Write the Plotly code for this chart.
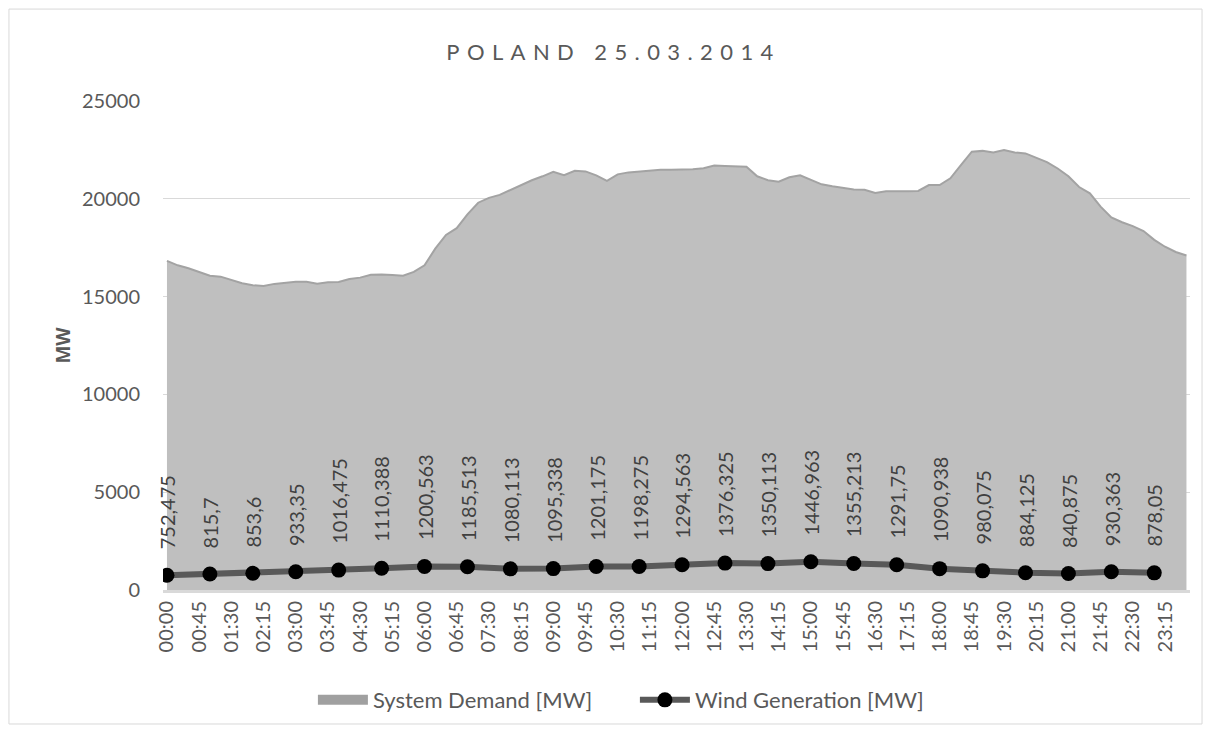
import plotly.graph_objects as go

# Categories: 15-minute intervals of 25.03.2014
times = [f"{h:02d}:{m:02d}" for h in range(24) for m in (0, 15, 30, 45)]

# System demand [MW], one value per 15 minutes
demand = [
    16830, 16600, 16450, 16250, 16070, 16020, 15850, 15680, 15580, 15540, 15650, 15720,
    15760, 15760, 15660, 15730, 15750, 15900, 15970, 16120, 16130, 16100, 16070, 16260,
    16600, 17450, 18150, 18500, 19200, 19800, 20050, 20200, 20450, 20720, 20950, 21150,
    21380, 21210, 21430, 21400, 21200, 20920, 21250, 21350, 21400, 21420, 21490, 21490,
    21500, 21510, 21560, 21700, 21680, 21650, 21640, 21150, 20950, 20870, 21100, 21200,
    20960, 20740, 20640, 20560, 20470, 20460, 20300, 20380, 20370, 20380, 20400, 20700,
    20700, 21050, 21730, 22410, 22450, 22370, 22490, 22370, 22320, 22100, 21880, 21550,
    21150, 20600, 20280, 19600, 19050, 18800, 18600, 18350, 17900, 17550, 17280, 17100,
]

# Wind generation [MW], hourly
wind_times = ["00:00", "01:00", "02:00", "03:00", "04:00", "05:00", "06:00", "07:00",
              "08:00", "09:00", "10:00", "11:00", "12:00", "13:00", "14:00", "15:00",
              "16:00", "17:00", "18:00", "19:00", "20:00", "21:00", "22:00", "23:00"]
wind = [752.475, 815.7, 853.6, 933.35, 1016.475, 1110.388, 1200.563, 1185.513,
        1080.113, 1095.338, 1201.175, 1198.275, 1294.563, 1376.325, 1350.113, 1446.963,
        1355.213, 1291.75, 1090.938, 980.075, 884.125, 840.875, 930.363, 878.05]
wind_labels = [str(v).replace(".", ",") for v in wind]

tick_labels = times[::3]
y_ticks = [0, 5000, 10000, 15000, 20000, 25000]
y_tick_text = ["0", "5000", "10000", "15000", "20000", "25000"]

FONT = "Lato"
TXT = "#595959"

fig = go.Figure()
fig.add_trace(go.Scatter(
    x=times, y=demand, name="System Demand [MW]", mode="lines",
    fill="tozeroy", fillcolor="#BFBFBF",
    line=dict(color="#A3A3A3", width=2),
    showlegend=False, legendgroup="demand",
))
# legend entry for the demand area (drawn as a wide grey box)
fig.add_trace(go.Scatter(
    x=[None], y=[None], name="System Demand [MW]", mode="lines",
    line=dict(color="#A0A0A0", width=15), legendgroup="demand", showlegend=True,
))
fig.add_trace(go.Scatter(
    x=wind_times, y=wind, name="Wind Generation [MW]", mode="lines+markers",
    line=dict(color="#595959", width=6),
    marker=dict(color="#000000", size=15),
))

annotations = []
for t, v, lab in zip(wind_times, wind, wind_labels):
    annotations.append(dict(
        x=t, y=v, xref="x", yref="y", text=lab, showarrow=False,
        textangle=-90, yanchor="bottom", xanchor="center", yshift=24,
        font=dict(family=FONT, size=20, color="#404040"),
    ))
annotations.append(dict(
    x=-0.0983, y=0.5, xref="paper", yref="paper", text="MW", showarrow=False,
    textangle=-90, xanchor="center", yanchor="middle",
    font=dict(family="Open Sans", size=19, color=TXT, weight="bold"),
))

fig.update_layout(
    width=1211, height=733,
    margin=dict(l=155, r=29, t=93, b=151),
    paper_bgcolor="white", plot_bgcolor="white",
    font=dict(family=FONT, size=20, color=TXT),
    title=dict(
        text='<span style="letter-spacing:7.4px">POLAND 25.03.2014</span>',
        x=0.5, xref="container", xanchor="center",
        y=1 - 44 / 733, yref="container", yanchor="middle",
        font=dict(family=FONT, size=22, color=TXT),
    ),
    xaxis=dict(
        type="category", categoryorder="array", categoryarray=times,
        range=[-0.37, 95.33],
        tickmode="array", tickvals=tick_labels, ticktext=tick_labels,
        tickangle=-90, showgrid=False, zeroline=False,
        showline=True, linecolor="#D9D9D9", linewidth=3,
        tickfont=dict(family=FONT, size=20, color=TXT),
        ticks="", fixedrange=True,
    ),
    yaxis=dict(
        range=[0, 25000], tickmode="array", tickvals=y_ticks, ticktext=y_tick_text,
        showgrid=True, gridcolor="#D9D9D9", gridwidth=1, zeroline=False,
        ticks="outside", ticklen=18, tickcolor="rgba(0,0,0,0)",
        tickfont=dict(family=FONT, size=20, color=TXT),
        showline=False,
    ),
    legend=dict(
        orientation="h", x=0.4595, xanchor="center", y=-0.225, yanchor="middle",
        font=dict(family=FONT, size=22, color=TXT), itemwidth=50,
        entrywidth=257, bgcolor="rgba(0,0,0,0)",
    ),
    annotations=annotations,
    shapes=[dict(
        type="rect", xref="paper", yref="paper",
        x0=-0.15, x1=1.0117, y0=-0.274, y1=1.188,
        line=dict(color="#D9D9D9", width=1), fillcolor="rgba(0,0,0,0)", layer="below",
    )],
    showlegend=True,
)

fig.write_html("out.html")
